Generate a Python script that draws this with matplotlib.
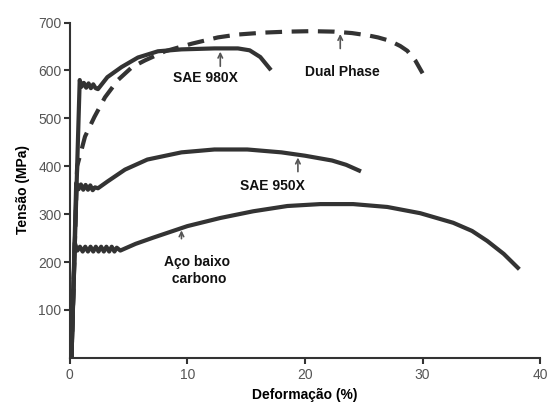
import numpy as np
import matplotlib.pyplot as plt
import matplotlib

matplotlib.rcParams['font.family'] = ['Liberation Sans', 'DejaVu Sans']

# stress-strain curves (strain %, stress MPa)
sae980_x = [0.15, 0.85, 1.0, 1.2, 1.4, 1.6, 1.8, 2.0, 2.2, 2.4, 3.2, 4.4, 5.8, 7.5, 9.5, 12.3, 14.3, 15.3, 16.2, 17.0]
sae980_y = [0, 580, 566, 574, 564, 573, 563, 571, 563, 561, 586, 607, 627, 640, 644, 646, 646, 642, 628, 604]

dual_x = [0.15, 0.63, 0.85, 1.3, 2.1, 3.0, 4.1, 5.3, 6.4, 8.1, 10.4, 12.6, 14.3, 16.5, 18.5, 20.5, 22.5,
          24.0, 25.4, 26.2, 27.2, 28.1, 28.7, 29.4, 30.0]
dual_y = [0, 400, 420, 462, 503, 544, 580, 607, 621, 640, 656, 669, 675, 679, 681, 682, 681,
          678, 673, 669, 662, 651, 641, 620, 594]

sae950_x = [0.15, 0.55, 0.75, 0.95, 1.15, 1.35, 1.55, 1.75, 1.95, 2.15, 2.4, 3.2, 4.7, 6.6, 9.5, 12.3,
            15.1, 18.0, 20.0, 22.3, 23.5, 24.6]
sae950_y = [0, 365, 352, 362, 351, 361, 351, 360, 350, 356, 354, 368, 393, 414, 429, 435,
            435, 429, 422, 412, 403, 391]

lowc_x = [0.15, 0.43, 0.65, 0.87, 1.1, 1.32, 1.55, 1.77, 2.0, 2.22, 2.45, 2.67, 2.9, 3.12, 3.35, 3.57,
          3.8, 4.0, 4.3, 5.6, 7.1, 10.0, 12.8, 15.6, 18.5, 21.3, 24.1, 27.0, 29.8, 32.6, 34.2, 35.5,
          36.9, 38.1]
lowc_y = [0, 240, 224, 232, 222, 232, 222, 232, 222, 232, 222, 232, 222, 232, 222, 232,
          222, 230, 224, 238, 251, 275, 292, 306, 317, 321, 321, 315, 302, 282, 265, 244,
          217, 188]

# label text, label position, arrow (x, y_start, y_end)
labels = ['SAE 980X', 'Dual Phase', 'SAE 950X', 'Aço baixo\n carbono']
label_pos = [(11.5, 585), (23.2, 596), (17.2, 358), (10.8, 183)]
arrows = [(12.8, 603, 645), (23.0, 640, 682), (19.4, 383, 424), (9.5, 243, 272)]

fig = plt.figure(figsize=(5.49, 4.03), dpi=100)
ax = fig.add_axes([0.127, 0.112, 0.857, 0.838])

col = '#333333'
ax.plot(lowc_x, lowc_y, color=col, lw=3, solid_joinstyle='round')
ax.plot(sae950_x, sae950_y, color=col, lw=3, solid_joinstyle='round')
ax.plot(sae980_x, sae980_y, color=col, lw=3, solid_joinstyle='round')
ax.plot(dual_x, dual_y, color=col, lw=3, dashes=(4, 2.3))

for (t, (tx, ty)) in zip(labels, label_pos):
    ax.text(tx, ty, t, ha='center', va='center', fontsize=10, fontweight='bold', color='#111111',
            linespacing=1.3)
for (ax_x, y0, y1) in arrows:
    ax.annotate('', xy=(ax_x, y1), xytext=(ax_x, y0),
                arrowprops=dict(arrowstyle='->', color='#555555', lw=1.2, mutation_scale=8))

ax.set_xlim(0, 40)
ax.set_ylim(0, 705)
ax.set_xticks([0, 10, 20, 30, 40])
ax.set_yticks([100, 200, 300, 400, 500, 600, 700])
ax.spines['top'].set_visible(False)
ax.spines['right'].set_visible(False)
ax.spines['left'].set_bounds(0, 700)
for s in ['left', 'bottom']:
    ax.spines[s].set_color('#333333')
    ax.spines[s].set_linewidth(1.5)
ax.tick_params(axis='both', labelsize=10, labelcolor='#555555', color='#333333', width=1.5, length=4)
ax.tick_params(axis='y', pad=2)

ax.set_xlabel('Deformação (%)', fontsize=10, fontweight='bold', labelpad=4)
ax.set_ylabel('Tensão (MPa)', fontsize=10, fontweight='bold', labelpad=6)

plt.savefig('out.png', dpi=100)
